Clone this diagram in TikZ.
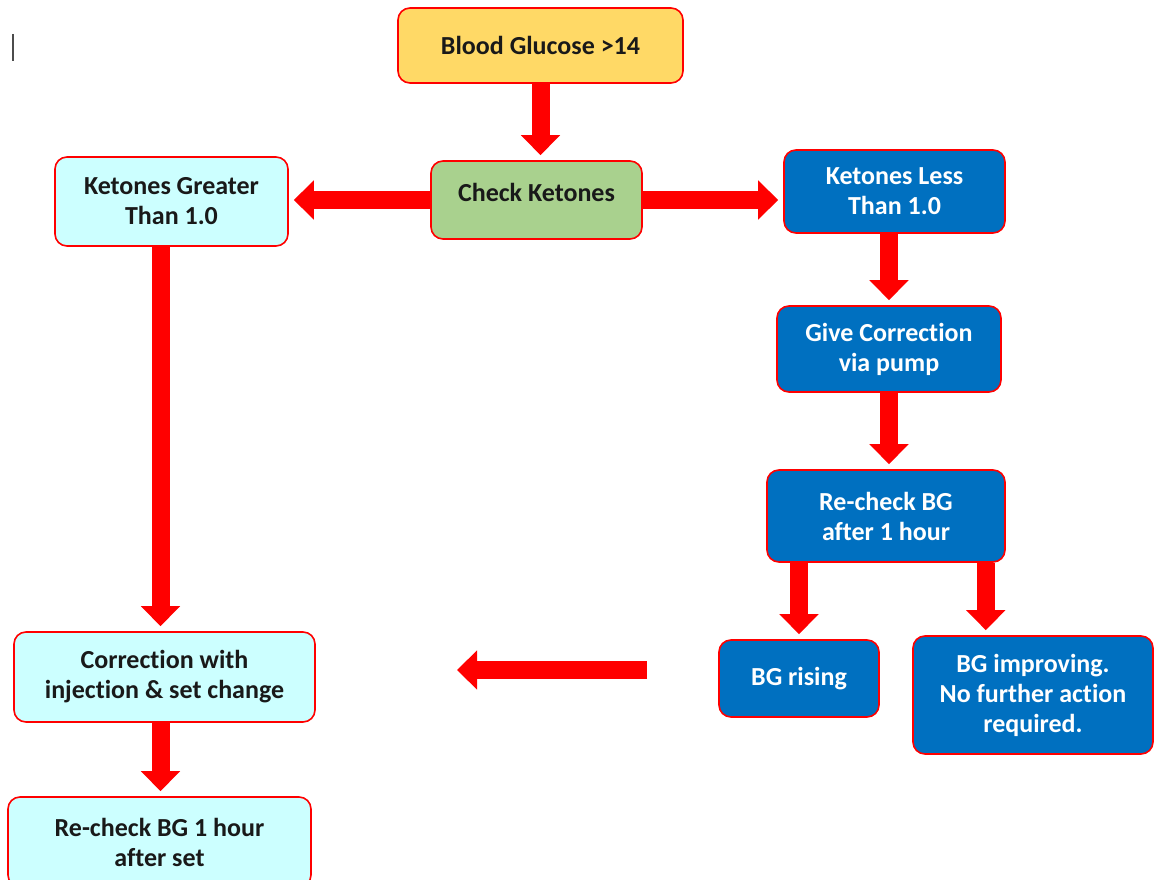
\documentclass[tikz,border=0pt]{standalone}
\usepackage{fontspec}
\setmainfont{Carlito}[Ligatures=NoCommon]
\usepackage{tikz}
\usetikzlibrary{arrows.meta}
\definecolor{gold}{HTML}{FFD966}
\definecolor{leaf}{HTML}{A9D18E}
\definecolor{ice}{HTML}{CCFFFF}
\definecolor{ocean}{HTML}{0070C0}
\tikzset{%
  box/.style={rectangle,rounded corners=12pt,draw=red,line width=1.6pt,
    align=center,inner sep=0pt,text=black!90,
    font=\fontsize{26}{30}\selectfont\bfseries},
  startbox/.style={box,fill=gold},
  checkbox/.style={box,fill=leaf},
  highbox/.style={box,fill=ice},
  lowbox/.style={box,fill=ocean,text=white},
  bigarrow/.style={color=red,line width=18pt,
    -{Triangle[length=20pt,width=38pt]},shorten >=5pt}
}
\begin{document}
\begin{tikzpicture}[x=1pt,y=-1pt]
    \useasboundingbox (0,0) rectangle (1154,880);
    \clip (0,0) rectangle (1154,880);
    \draw [black!70,line width=2pt] (13,34) -- (13,61);

    \node [startbox,minimum width=285pt,minimum height=75pt] (bg) at (540.5,45.5) {Blood Glucose >14};
    \node [checkbox,minimum width=211pt,minimum height=78pt] (check) at (536.5,200) {\raisebox{8pt}[\height][\depth]{Check Ketones}};
    \node [highbox,minimum width=233pt,minimum height=89pt] (high) at (171.5,201.5) {Ketones Greater\\Than 1.0};
    \node [lowbox,minimum width=221pt,minimum height=83pt] (low) at (894.5,191.5) {Ketones Less\\Than 1.0};
    \node [lowbox,minimum width=224pt,minimum height=86pt] (pump) at (889,349) {Give Correction\\via pump};
    \node [lowbox,minimum width=238pt,minimum height=92pt] (recheck) at (886,516) {Re-check BG\\after 1 hour};
    \node [lowbox,minimum width=160pt,minimum height=77pt] (rising) at (799,678.5) {BG rising};
    \node [lowbox,minimum width=240pt,minimum height=118pt] (improve) at (1033,695) {BG improving.\\No further action\\required.};
    \node [highbox,minimum width=301pt,minimum height=90pt] (inject) at (164.5,677) {Correction with\\injection \& set change};
    \node [highbox,minimum width=303pt,minimum height=90pt] (setcheck) at (159.5,842) {Re-check BG 1 hour\\after set};

    \coordinate (free) at (647,670);
    \coordinate (freeend) at (457,670);

    \draw [bigarrow] (bg.south) -- (bg.south |- check.north);
    \draw [bigarrow] (check.west) -- (check.west -| high.east);
    \draw [bigarrow] (check.east) -- (check.east -| low.west);
    \draw [bigarrow] ([xshift=-11pt]high.south) -- ([xshift=-11pt]high.south |- inject.north);
    \draw [bigarrow] (low.south -| pump) -- (pump.north);
    \draw [bigarrow] (pump.south) -- (pump.south |- recheck.north);
    \draw [bigarrow] (recheck.south -| rising) -- (rising.north);
    \draw [bigarrow] ([xshift=-20pt]recheck.south east) -- ([xshift=-20pt]recheck.south east |- improve.north);
    \draw [bigarrow,shorten >=0pt] (free) -- (freeend);
    \draw [bigarrow] ([xshift=-4pt]inject.south) -- ([xshift=-4pt]inject.south |- setcheck.north);
\end{tikzpicture}
\end{document}
